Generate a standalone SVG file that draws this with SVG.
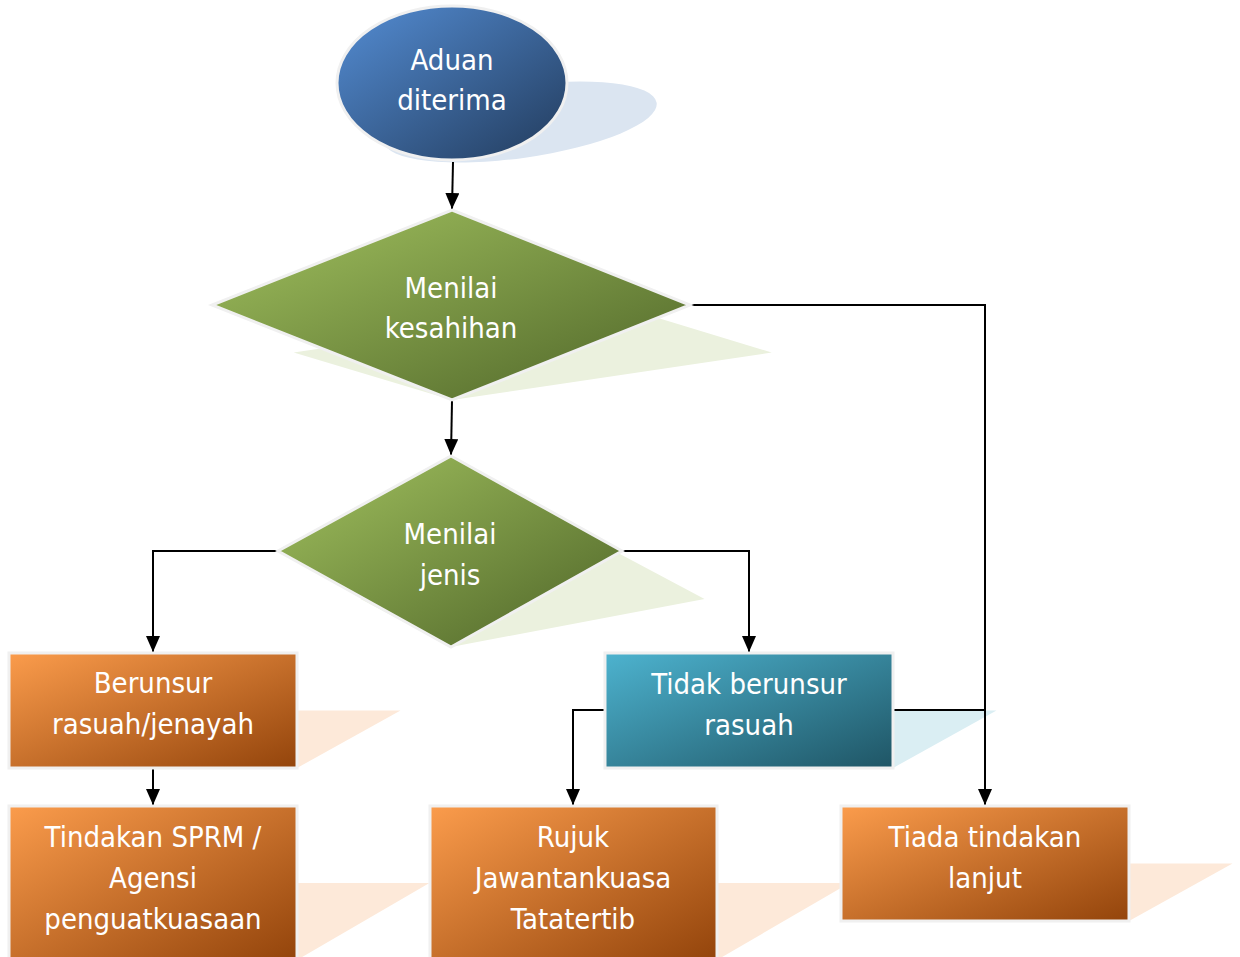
<svg xmlns="http://www.w3.org/2000/svg" width="1240" height="957" viewBox="0 0 1240 957">
<defs>
<linearGradient id="gBlue" x1="0" y1="0" x2="1" y2="1"><stop offset="0" stop-color="#548dd4"/><stop offset="1" stop-color="#223b5c"/></linearGradient>
<linearGradient id="gGreen" x1="0" y1="0" x2="1" y2="1"><stop offset="0" stop-color="#a2c25f"/><stop offset="1" stop-color="#4e6428"/></linearGradient>
<linearGradient id="gOrange" x1="0" y1="0" x2="1" y2="1"><stop offset="0" stop-color="#fb9c4c"/><stop offset="1" stop-color="#93440b"/></linearGradient>
<linearGradient id="gTeal" x1="0" y1="0" x2="1" y2="1"><stop offset="0" stop-color="#4db3cf"/><stop offset="1" stop-color="#1f5565"/></linearGradient>
<marker id="arr" viewBox="0 0 16 14" refX="16" refY="7" markerWidth="16" markerHeight="14" markerUnits="userSpaceOnUse" orient="auto">
<path d="M0,0 L16,7 L0,14 Z" fill="#000"/>
</marker>
<style>
.lbl{font-family:"DejaVu Sans Condensed","DejaVu Sans",sans-serif;font-size:29px;fill:#fff;text-anchor:middle}
.shape{stroke:#f0f0f0;stroke-width:3}
.conn{fill:none;stroke:#000;stroke-width:2;marker-end:url(#arr)}
.line{fill:none;stroke:#000;stroke-width:2}
</style>
</defs>
<rect width="1240" height="957" fill="#fff"/>

<g id="shadows">
<ellipse cx="520" cy="122" rx="138" ry="36" fill="#dbe5f1" transform="rotate(-8 520 122)"/>
<polygon points="452,210 690,305 452,400 212,305" fill="#ebf1de" transform="matrix(1,0,-0.86,0.5,344,200)"/>
<polygon points="451,456 622,551 451,647 278,551" fill="#ebf1de" transform="matrix(1,0,-0.86,0.5,556.4,323.5)"/>
<rect x="9" y="653" width="288" height="115" fill="#fde9d9" transform="matrix(1,0,-0.9,0.5,691.2,384)"/>
<rect x="605" y="653" width="288" height="115" fill="#daeef3" transform="matrix(1,0,-0.9,0.5,691.2,384)"/>
<rect x="9" y="806" width="288" height="154" fill="#fde9d9" transform="matrix(1,0,-0.86,0.5,825.6,480)"/>
<rect x="430" y="806" width="287" height="154" fill="#fde9d9" transform="matrix(1,0,-0.86,0.5,825.6,480)"/>
<rect x="841" y="806" width="288" height="115" fill="#fde9d9" transform="matrix(1,0,-0.9,0.5,828.9,460.5)"/>
</g>

<g id="connectors">
<path class="conn" d="M453,162 L452,209"/>
<path class="conn" d="M452,401 L451,455"/>
<path class="conn" d="M690,305 L985,305 L985,805"/>
<path class="conn" d="M278,551 L153,551 L153,652"/>
<path class="conn" d="M622,551 L749,551 L749,652"/>
<path class="conn" d="M153,769 L153,805"/>
<path class="conn" d="M605,710 L573,710 L573,805"/>
<path class="line" d="M893,710 L985,710"/>
</g>

<g id="n-aduan">
<ellipse class="shape" cx="452" cy="83" rx="115" ry="77" fill="url(#gBlue)"/>
<text class="lbl" x="452" y="70">Aduan</text>
<text class="lbl" x="452" y="110">diterima</text>
</g>

<g id="n-kesahihan">
<polygon class="shape" points="452,210 690,305 452,400 212,305" fill="url(#gGreen)"/>
<text class="lbl" x="451" y="298">Menilai</text>
<text class="lbl" x="451" y="338">kesahihan</text>
</g>

<g id="n-jenis">
<polygon class="shape" points="451,456 622,551 451,647 278,551" fill="url(#gGreen)"/>
<text class="lbl" x="450" y="544">Menilai</text>
<text class="lbl" x="450" y="585">jenis</text>
</g>

<g id="n-berunsur">
<rect class="shape" x="9" y="653" width="288" height="115" fill="url(#gOrange)"/>
<text class="lbl" x="153" y="693">Berunsur</text>
<text class="lbl" x="153" y="734">rasuah/jenayah</text>
</g>

<g id="n-tidak">
<rect class="shape" x="605" y="653" width="288" height="115" fill="url(#gTeal)"/>
<text class="lbl" x="749" y="694">Tidak berunsur</text>
<text class="lbl" x="749" y="735">rasuah</text>
</g>

<g id="n-tindakan">
<rect class="shape" x="9" y="806" width="288" height="154" fill="url(#gOrange)"/>
<text class="lbl" x="153" y="847">Tindakan SPRM /</text>
<text class="lbl" x="153" y="888">Agensi</text>
<text class="lbl" x="153" y="929">penguatkuasaan</text>
</g>

<g id="n-rujuk">
<rect class="shape" x="430" y="806" width="287" height="154" fill="url(#gOrange)"/>
<text class="lbl" x="573" y="847">Rujuk</text>
<text class="lbl" x="573" y="888">Jawantankuasa</text>
<text class="lbl" x="573" y="929">Tatatertib</text>
</g>

<g id="n-tiada">
<rect class="shape" x="841" y="806" width="288" height="115" fill="url(#gOrange)"/>
<text class="lbl" x="985" y="847">Tiada tindakan</text>
<text class="lbl" x="985" y="888">lanjut</text>
</g>
</svg>
